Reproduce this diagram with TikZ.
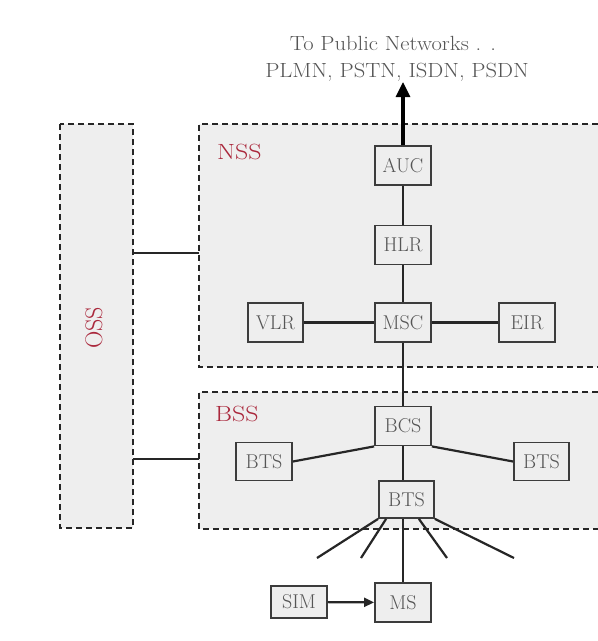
\documentclass[tikz,border=0pt]{standalone}
\usetikzlibrary{arrows.meta}
\definecolor{boxfill}{RGB}{238,238,238}
\definecolor{boxline}{RGB}{60,60,60}
\definecolor{txt}{RGB}{85,85,85}
\definecolor{lbl}{RGB}{170,40,60}
\begin{document}
\begin{tikzpicture}[x=1pt,y=-1pt,
  box/.style={draw=boxline, line width=1.8pt, fill=boxfill, minimum width=56pt, minimum height=39pt, inner sep=0pt, text=txt, font=\fontsize{20}{24}\selectfont},
  region/.style={dash pattern=on 6pt off 4pt, line width=1.6pt, draw=black!85},
  wire/.style={line width=2.2pt, draw=black!85},
  reglabel/.style={text=lbl, font=\fontsize{22}{26}\selectfont, inner sep=0pt, xscale=1.18},
  osslabel/.style={text=lbl, font=\fontsize{24}{28}\selectfont, inner sep=0pt},
  toptext/.style={text=txt, font=\fontsize{20.5}{24}\selectfont, inner sep=0pt, anchor=base, xscale=1.1}]
\useasboundingbox (0,0) rectangle (598,641);
\fill[white] (0,0) rectangle (598,641);
% regions
\fill[boxfill] (60,124) rectangle (133,528);
\draw[region] (60,124) rectangle (133,528);
\fill[boxfill] (199,124) rectangle (598,367);
\draw[region] (598,124) -- (199,124) -- (199,367) -- (598,367);
\fill[boxfill] (199,392) rectangle (598,529);
\draw[region] (598,392) -- (199,392) -- (199,529) -- (598,529);
\coordinate (ossN) at (133,253);
\coordinate (nssW) at (199,253);
\coordinate (ossB) at (133,459);
\coordinate (bssW) at (199,459);
\node[reglabel, anchor=base west] (nsslbl) at (217,159) {NSS};
\node[reglabel, anchor=base west] (bsslbl) at (215,421) {BSS};
\node[osslabel, rotate=90] (osslbl) at (94,328) {OSS};
% top text
\node[toptext] (t1) at (393,50) {To Public Networks . .};
\node[toptext] (t2) at (397,77) {PLMN, PSTN, ISDN, PSDN};
\coordinate (pub) at (403,82);
% nodes
\node[box] (AUC) at (403,165.5) {AUC};
\node[box] (HLR) at (403,245) {HLR};
\node[box] (MSC) at (403,322.5) {MSC};
\node[box, minimum width=55pt] (VLR) at (275.5,322.5) {VLR};
\node[box] (EIR) at (527,322.5) {EIR};
\node[box] (BCS) at (403,426) {BCS};
\node[box, minimum height=38pt] (BTSL) at (264,461.5) {BTS};
\node[box, minimum width=55pt, minimum height=38pt] (BTSR) at (541.5,461.5) {BTS};
\node[box, minimum width=55pt, minimum height=37pt] (BTSC) at (406.5,499.5) {BTS};
\node[box] (MS) at (403,602.5) {MS};
\node[box, minimum height=32pt] (SIM) at (299,602) {SIM};
% connectors
\draw[wire] (ossN) -- (nssW);
\draw[wire] (ossB) -- (bssW);
\draw[line width=3.2pt, black, -{Triangle[length=15pt,width=14pt]}] (AUC.north) -- (pub);
\draw[wire] (AUC) -- (HLR);
\draw[wire] (HLR) -- (MSC);
\draw[wire] (VLR) -- (MSC);
\draw[wire] (MSC) -- (EIR);
\draw[wire] (MSC) -- (BCS);
\draw[wire] (BCS.south) -- (BCS.south |- BTSC.north);
\draw[wire] (BCS.south west) -- (BTSL.east);
\draw[wire] (BCS.south east) -- (BTSR.west);
\draw[wire] (MS.north |- BTSC.south) -- (MS.north);
\coordinate (r1) at (317,558);
\coordinate (r2) at (361,558);
\coordinate (r3) at (447,558);
\coordinate (r4) at (514,558);
\draw[wire] (BTSC.south west) -- (r1);
\draw[wire] ([xshift=8pt]BTSC.south west) -- (r2);
\draw[wire] ([xshift=-16pt]BTSC.south east) -- (r3);
\draw[wire] (BTSC.south east) -- (r4);
\draw[wire, -{Triangle[length=10pt,width=9pt]}] (SIM) -- (MS);
\end{tikzpicture}
\end{document}
